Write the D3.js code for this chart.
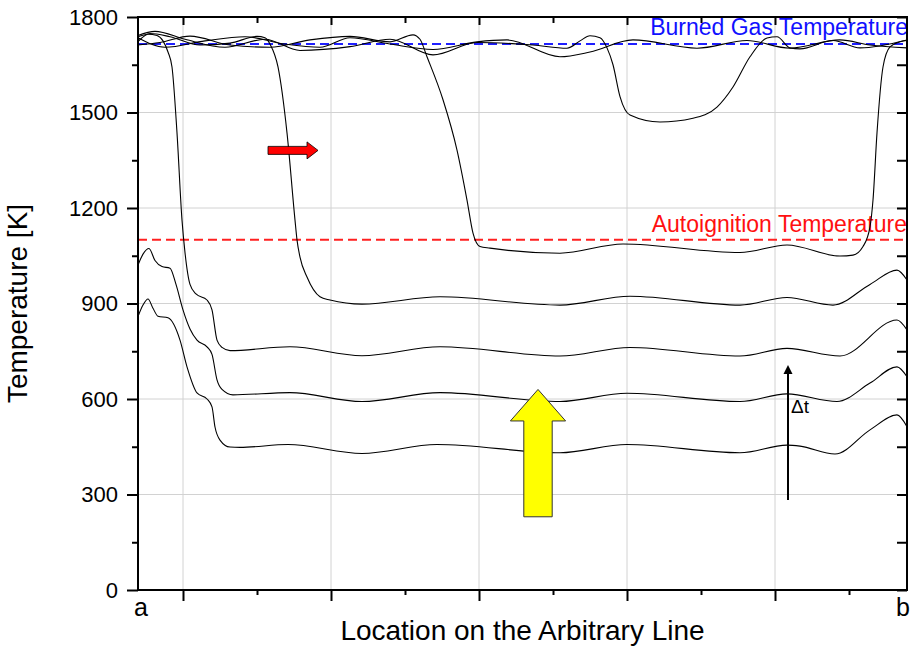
<!DOCTYPE html>
<html>
<head>
<meta charset="utf-8">
<script src="https://cdn.jsdelivr.net/npm/d3@7"></script>
<style>
  body { margin: 0; background: #fff; }
  svg { font-family: "Liberation Sans", Arial, sans-serif; }
</style>
</head>
<body>
<svg id="chart" width="913" height="648"></svg>
<script>
// temperature profiles along the line a -> b (location in arbitrary units, T in K)
// one array per time step, coldest first
const profile1 = [[0,859],[5,895],[10,914],[15,885],[20,860],[30,855],[42,785],[49,701],[59,619],[69,600],[74,575],[77,512],[82,471],[92,449],[102,448],[150,457],[224,429],[299,457],[422,431],[489,457],[602,431],[649,455],[662,452],[697,427],[732,503],[759,550],[769,513]];
const profile2 = [[0,1021],[5,1055],[11,1073],[17,1035],[24,1016],[32,1011],[38,960],[45,880],[52,820],[59,785],[69,764],[74,740],[79,660],[84,630],[95,613],[152,620],[224,592],[302,620],[422,592],[489,618],[602,592],[649,616],[699,592],[732,650],[759,701],[769,670]];
const profile3 = [[0,1738],[10,1746],[19,1742],[25,1725],[30,1690],[34,1643],[39,1436],[44,1162],[47,1060],[52,960],[58,930],[69,911],[74,880],[79,785],[84,762],[92,752],[152,764],[224,736],[302,764],[422,735],[492,762],[602,735],[649,759],[702,735],[759,848],[769,817]];
const profile4 = [[0,1723],[12,1748],[32,1738],[62,1712],[92,1718],[119,1739],[127,1735],[132,1715],[140,1643],[149,1436],[157,1162],[159,1100],[162,1046],[169,983],[182,921],[192,911],[224,898],[302,921],[422,895],[492,923],[602,895],[649,919],[695,895],[732,960],[759,1005],[769,974]];
const profile5 = [[0,1712],[22,1720],[52,1740],[92,1712],[132,1705],[172,1728],[212,1739],[252,1722],[275,1744],[282,1730],[289,1675],[305,1540],[319,1382],[329,1225],[335,1121],[342,1079],[352,1074],[422,1058],[485,1087],[602,1060],[649,1084],[702,1049],[715,1052],[725,1079],[732,1141],[735,1225],[739,1436],[745,1643],[752,1706],[762,1722],[769,1726]];
const profile6 = [[0,1742],[17,1755],[47,1730],[87,1705],[127,1730],[162,1695],[212,1707],[252,1730],[295,1681],[339,1720],[395,1712],[429,1702],[442,1725],[452,1741],[462,1735],[469,1703],[475,1650],[482,1550],[492,1492],[522,1470],[555,1482],[579,1517],[595,1580],[612,1675],[629,1734],[639,1738],[652,1703],[662,1700],[695,1726],[722,1703],[769,1728]];
const profile7 = [[0,1735],[27,1705],[67,1725],[107,1738],[147,1715],[182,1705],[212,1735],[252,1715],[295,1698],[339,1722],[369,1728],[422,1675],[452,1690],[495,1728],[559,1702],[609,1726],[652,1702],[702,1728],[732,1712],[769,1703]];
const profiles = [profile1, profile2, profile3, profile4, profile5, profile6, profile7];

const burnedGasT = 1715;
const autoignitionT = 1100;

const yMajor = [0, 300, 600, 900, 1200, 1500, 1800];
const yMinor = [150, 450, 750, 1050, 1350, 1650];
const xMajor = [45, 193, 341, 489, 637];
const xMinor = [119, 267, 415, 563, 711];
const endLabels = [[0, "a"], [769, "b"]];

const margin = {top: 17, right: 6, bottom: 58, left: 138};
const W = 913, H = 648;
const svg = d3.select("#chart");

const x = d3.scaleLinear().domain([0, 769]).range([margin.left, W - margin.right]);
const y = d3.scaleLinear().domain([0, 1800]).range([H - margin.bottom, margin.top]);

// grid
const grid = svg.append("g").attr("stroke", "#d2d2d2").attr("stroke-width", 1);
grid.selectAll(".gx").data(xMajor).enter().append("line")
  .attr("x1", d => x(d)).attr("x2", d => x(d))
  .attr("y1", y(0)).attr("y2", y(1800));
grid.selectAll(".gy").data(yMajor.slice(1, -1)).enter().append("line")
  .attr("x1", x(0)).attr("x2", x(769))
  .attr("y1", d => y(d)).attr("y2", d => y(d));

// reference temperatures
svg.append("line")
  .attr("x1", x(0)).attr("x2", x(769))
  .attr("y1", y(burnedGasT)).attr("y2", y(burnedGasT))
  .attr("stroke", "#1f1fff").attr("stroke-width", 2).attr("stroke-dasharray", "9,5");
svg.append("line")
  .attr("x1", x(0)).attr("x2", x(769))
  .attr("y1", y(autoignitionT)).attr("y2", y(autoignitionT))
  .attr("stroke", "#ff2020").attr("stroke-width", 2).attr("stroke-dasharray", "9,5");

svg.append("text").attr("x", x(769) + 1).attr("y", y(burnedGasT) - 9)
  .attr("text-anchor", "end").attr("font-size", 23).attr("fill", "#1010ff")
  .text("Burned Gas Temperature");
svg.append("text").attr("x", x(769)).attr("y", y(autoignitionT) - 8)
  .attr("text-anchor", "end").attr("font-size", 23).attr("fill", "#ff1010")
  .text("Autoignition Temperature");

// profiles
const line = d3.line().x(d => x(d[0])).y(d => y(d[1])).curve(d3.curveMonotoneX);
svg.append("g").selectAll("path").data(profiles).enter().append("path")
  .attr("d", line).attr("fill", "none").attr("stroke", "#000").attr("stroke-width", 1.1);

// red arrow (front moves to the right)
const ra = {x0: 130, x1: 169, x2: 180, t: 1381};
svg.append("path")
  .attr("d", `M${x(ra.x0)},${y(ra.t) - 4} L${x(ra.x1)},${y(ra.t) - 4} L${x(ra.x1)},${y(ra.t) - 8.5}
    L${x(ra.x2)},${y(ra.t)} L${x(ra.x1)},${y(ra.t) + 8.5} L${x(ra.x1)},${y(ra.t) + 4} L${x(ra.x0)},${y(ra.t) + 4} Z`)
  .attr("fill", "#ff0000").attr("stroke", "#000").attr("stroke-width", 0.8);

// yellow arrow (temperature rises with time)
const ya = {xc: 400, bw: 14.2, hw: 27.6, t0: 230, tb: 531, tt: 630};
svg.append("path")
  .attr("d", `M${x(ya.xc) - ya.bw},${y(ya.t0)} L${x(ya.xc) - ya.bw},${y(ya.tb)} L${x(ya.xc) - ya.hw},${y(ya.tb)}
    L${x(ya.xc)},${y(ya.tt)} L${x(ya.xc) + ya.hw},${y(ya.tb)} L${x(ya.xc) + ya.bw},${y(ya.tb)} L${x(ya.xc) + ya.bw},${y(ya.t0)} Z`)
  .attr("fill", "#ffff00").attr("stroke", "#333").attr("stroke-width", 1);

// delta t arrow
const dt = {x: 650, t0: 283, t1: 707};
svg.append("line").attr("x1", x(dt.x)).attr("x2", x(dt.x))
  .attr("y1", y(dt.t0)).attr("y2", y(dt.t1) + 8)
  .attr("stroke", "#000").attr("stroke-width", 2);
svg.append("path")
  .attr("d", `M${x(dt.x)},${y(dt.t1)} L${x(dt.x) - 4.5},${y(dt.t1) + 9} L${x(dt.x) + 4.5},${y(dt.t1) + 9} Z`)
  .attr("fill", "#000");
svg.append("text").attr("x", x(dt.x) + 3).attr("y", y(dt.t1) + 48)
  .attr("font-size", 19).text("Δt");

// axes
const axisStyle = g => {
  g.select(".domain").remove();
  g.selectAll(".tick line").attr("stroke", "#000").attr("stroke-width", 2);
};
svg.append("g").attr("transform", `translate(${x(0)},0)`)
  .call(d3.axisLeft(y).tickValues(yMajor).tickSize(11).tickPadding(9).tickFormat(d3.format("d")))
  .call(axisStyle)
  .call(g => g.selectAll("text").attr("font-size", 22).attr("fill", "#000")
    .attr("font-family", "Liberation Sans, Arial, sans-serif"));
svg.append("g").attr("transform", `translate(${x(0)},0)`)
  .call(d3.axisLeft(y).tickValues(yMinor).tickSize(6).tickFormat(""))
  .call(axisStyle);
svg.append("g").attr("transform", `translate(${x(769)},0)`)
  .call(d3.axisRight(y).tickValues(yMajor.concat(yMinor)).tickSize(-10).tickFormat(""))
  .call(axisStyle);
svg.append("g").attr("transform", `translate(0,${y(0)})`)
  .call(d3.axisBottom(x).tickValues(xMajor).tickSize(11).tickFormat(""))
  .call(axisStyle);
svg.append("g").attr("transform", `translate(0,${y(0)})`)
  .call(d3.axisBottom(x).tickValues(xMinor).tickSize(5).tickFormat(""))
  .call(axisStyle);
svg.append("g").attr("transform", `translate(0,${y(1800)})`)
  .call(d3.axisTop(x).tickValues(xMajor).tickSize(-8).tickFormat(""))
  .call(axisStyle);
svg.append("g").attr("transform", `translate(0,${y(1800)})`)
  .call(d3.axisTop(x).tickValues(xMinor).tickSize(-6).tickFormat(""))
  .call(axisStyle);

// frame
svg.append("rect")
  .attr("x", x(0)).attr("y", y(1800))
  .attr("width", x(769) - x(0)).attr("height", y(0) - y(1800))
  .attr("fill", "none").attr("stroke", "#000").attr("stroke-width", 2);

// end labels a / b
svg.selectAll(".endlab").data(endLabels).enter().append("text")
  .attr("x", d => x(d[0]) + (d[0] === 0 ? 3 : -4)).attr("y", y(0) + 26)
  .attr("text-anchor", "middle").attr("font-size", 25)
  .text(d => d[1]);

// axis titles
svg.append("text").attr("x", (x(0) + x(769)) / 2).attr("y", 640)
  .attr("text-anchor", "middle").attr("font-size", 28)
  .text("Location on the Arbitrary Line");
svg.append("text").attr("transform", `translate(27,${(y(0) + y(1800)) / 2}) rotate(-90)`)
  .attr("text-anchor", "middle").attr("font-size", 28)
  .text("Temperature [K]");
</script>
</body>
</html>
